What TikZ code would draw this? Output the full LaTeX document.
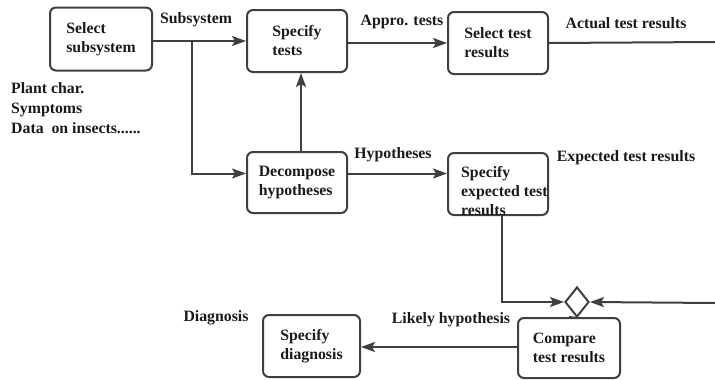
\documentclass[tikz,border=0pt]{standalone}
\usepackage{fontspec}
\setmainfont{Liberation Serif}[BoldFont={Liberation Serif Bold}]
\usetikzlibrary{arrows.meta,shapes.geometric}
\definecolor{ink}{HTML}{1A1A1A}
\definecolor{wire}{HTML}{3F3F3F}
\begin{document}
\begin{tikzpicture}[x=1pt,y=-1pt,
  every node/.style={text=ink,font=\fontsize{15.8}{19}\selectfont\rmfamily\bfseries},
  procbox/.style={draw=wire,line width=2pt,rounded corners=6pt,align=left,
    minimum width=100pt,minimum height=62pt,inner sep=2pt},
  flow/.style={draw=wire,line width=2pt,-{Stealth[length=14pt,width=10pt,inset=3pt]}},
  plain/.style={draw=wire,line width=2pt},
  tag/.style={inner sep=1pt}]
\useasboundingbox (0,0) rectangle (715,380);

% process boxes
\node[procbox,minimum width=102pt,minimum height=63pt] (sel) at (101,39) {Select\\subsystem};
\node[procbox] (spt) at (297,41) {Specify\\tests};
\node[procbox] (str) at (498,43) {Select test\\results};
\node[procbox,minimum height=61pt] (dec) at (297,182.5) {Decompose\\hypotheses};
\node[procbox] (spe) at (498,184) {};
\node[align=left,anchor=west,inner sep=0pt] (spetxt) at (461,191) {Specify\\expected test\\results};
\node[procbox,minimum width=102pt,minimum height=60pt] (cmp) at (569,348) {Compare\\test results};
\node[procbox,minimum width=97pt] (dia) at (311.5,346) {Specify\\diagnosis};
\node[diamond,draw=wire,line width=2pt,fill=white,minimum width=24pt,minimum height=30pt,inner sep=0pt] (dmd) at (577,302) {};

% free ends leaving the picture on the right
\coordinate (outA) at (715,42);
\coordinate (outB) at (715,303);
\coordinate (br) at (192,41);

% connectors
\draw[flow] (sel.east |- spt.west) -- (spt.west);
\draw[flow] (br) |- ([yshift=9pt]dec.west);
\draw[flow] ([xshift=4pt]dec.north) -- ([xshift=4pt]dec.north |- spt.south);
\draw[flow] (spt.east |- str.west) -- (str.west);
\draw[plain] (str.east) -- (outA);
\draw[flow] ([yshift=9pt]dec.east) -- ([yshift=9pt]dec.east -| spe.west);
\draw[flow] ([xshift=4pt]spe.south) |- (dmd.west);
\draw[flow] (outB) -- (dmd.east);
\draw[plain] (dmd.south) -- (cmp.north);
\draw[flow] (cmp.west |- 0,347) -- (dia.east |- 0,347);

% labels
\node[tag] (lsub) at (196,20) {Subsystem};
\node[tag,align=left,anchor=west,font=\fontsize{15.8}{20}\selectfont\rmfamily\bfseries] (lin) at (10,108) {Plant char.\\Symptoms\\Data\ \ on insects......};
\node[tag] (lapp) at (402,22) {Appro. tests};
\node[tag] (lact) at (626,23) {Actual test results};
\node[tag] (lhyp) at (393,155) {Hypotheses};
\node[tag] (lexp) at (626,158) {Expected test results};
\node[tag] (ldia) at (216,318) {Diagnosis};
\node[tag] (llik) at (451,320) {Likely hypothesis};
\end{tikzpicture}
\end{document}
